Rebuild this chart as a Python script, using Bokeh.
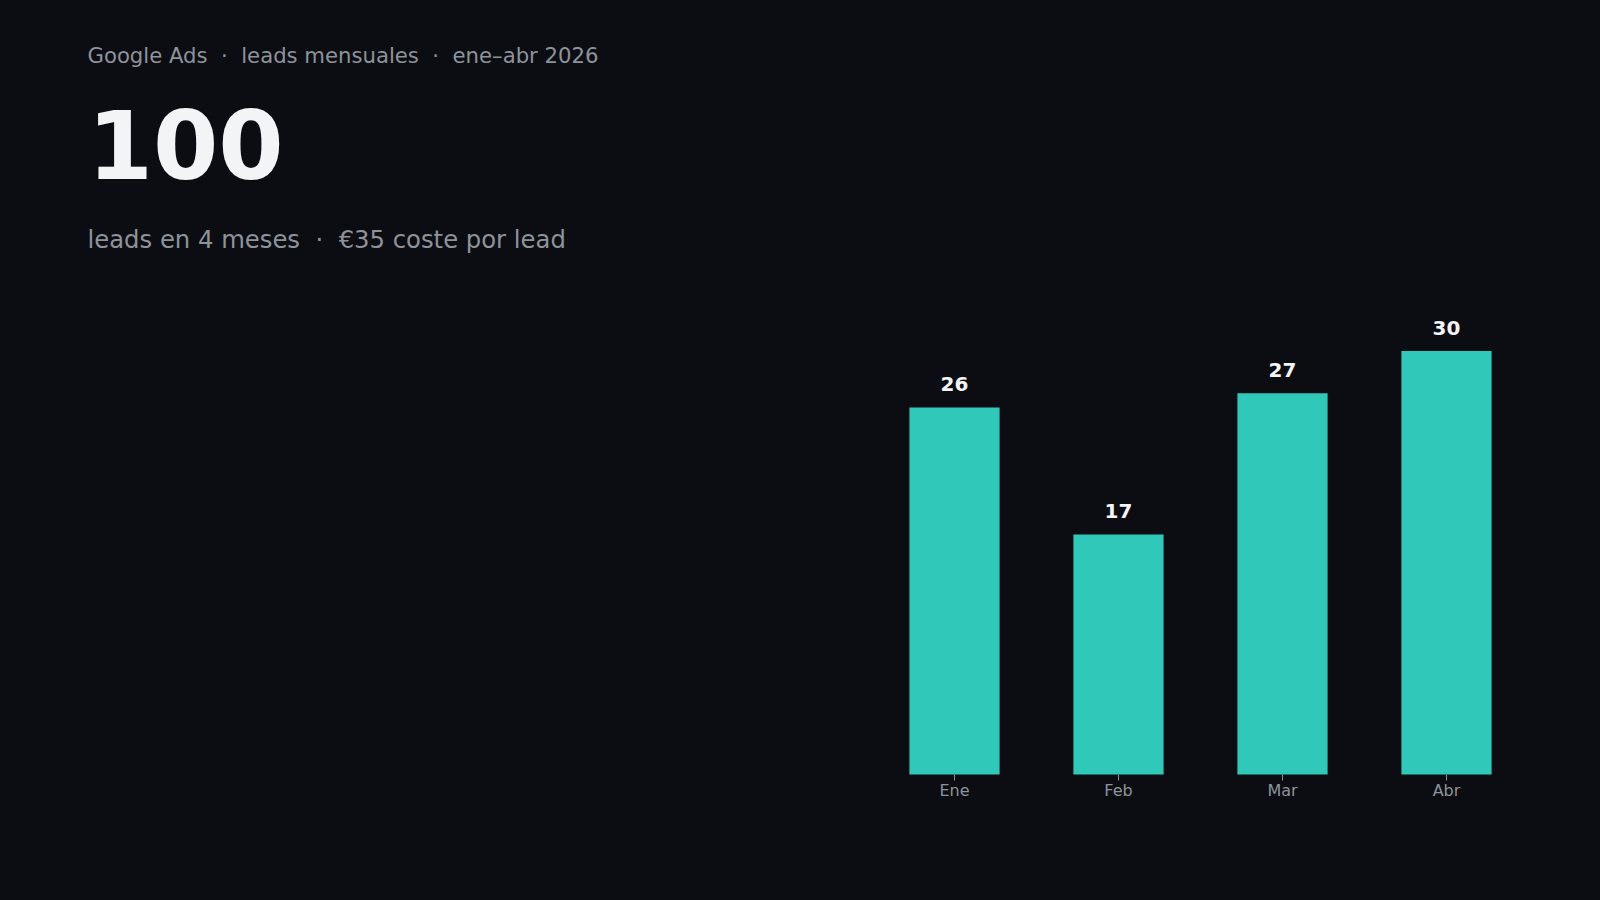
from bokeh.plotting import figure
from bokeh.models import Range1d, ColumnDataSource, LinearAxis, FixedTicker
from bokeh.core.properties import value
from bokeh.embed import file_html
from bokeh.resources import INLINE

# ---- data ----
months = ["Ene", "Feb", "Mar", "Abr"]
leads = [26, 17, 27, 30]
total_leads = "100"
SEP = "\u00a0\u00a0\u00b7\u00a0\u00a0"
subtitle = "Google Ads" + SEP + "leads mensuales" + SEP + "ene\u2013abr 2026"
summary = "leads en 4 meses" + SEP + "\u20ac35 coste por lead"

BG = "#0b0d12"
TEAL = "#30c8b9"
GRAY = "#8e939b"
WHITE = "#f3f4f6"
FONT = "DejaVu Sans"

W, H = 1600, 900
X0, XW = 872, 164        # page x where the category band starts, px per category
Y0, PPU = 774, 14.12     # page y of the value zero line, px per lead

centers = [i + 0.5 for i in range(len(months))]
src = ColumnDataSource(data=dict(x=centers, v=leads, t=[str(v) for v in leads]))

p = figure(width=W, height=H, output_backend="svg", toolbar_location=None,
           x_range=Range1d(-X0 / XW, (W - X0) / XW),
           y_range=Range1d(-(H - Y0) / PPU, Y0 / PPU),
           x_axis_type=None, y_axis_type=None, min_border=0,
           background_fill_color=BG, border_fill_color=BG)
p.outline_line_color = None
p.grid.visible = False

# page-pixel ranges for the headline texts
p.extra_x_ranges = {"px": Range1d(0, W)}
p.extra_y_ranges = {"py": Range1d(H, 0)}

p.vbar(x="x", top="v", width=0.55, source=src, color=TEAL, line_color=None)
p.text(x="x", y="v", text="t", source=src, text_align="center",
       text_baseline="alphabetic", y_offset=-23,
       text_font=value(FONT), text_font_size="20px", text_font_style="bold",
       text_color=WHITE)

ax = LinearAxis(fixed_location=0, ticker=FixedTicker(ticks=centers),
                major_label_overrides={c: m for c, m in zip(centers, months)})
ax.axis_line_color = None
ax.major_tick_line_color = GRAY
ax.major_tick_in = 0
ax.major_tick_out = 6
ax.minor_tick_line_color = None
ax.major_label_standoff = 0
ax.major_label_text_color = GRAY
ax.major_label_text_font = FONT
ax.major_label_text_font_size = "16px"
p.add_layout(ax, "below")

kw = dict(x_range_name="px", y_range_name="py", text_baseline="alphabetic",
          text_font=value(FONT))
p.text(x=[87], y=[55], text=[subtitle], text_font_size="21.2px",
       text_color=GRAY, **kw)
p.text(x=[87], y=[144], text=[total_leads], text_font_size="94px",
       text_font_style="bold", text_color=WHITE, **kw)
p.text(x=[87], y=[239], text=[summary], text_font_size="24.3px",
       text_color=GRAY, **kw)

html = file_html(p, INLINE)
html = html.replace("</head>", "<style>html,body{background:%s;}</style></head>" % BG, 1)
open("out.html", "w").write(html)
